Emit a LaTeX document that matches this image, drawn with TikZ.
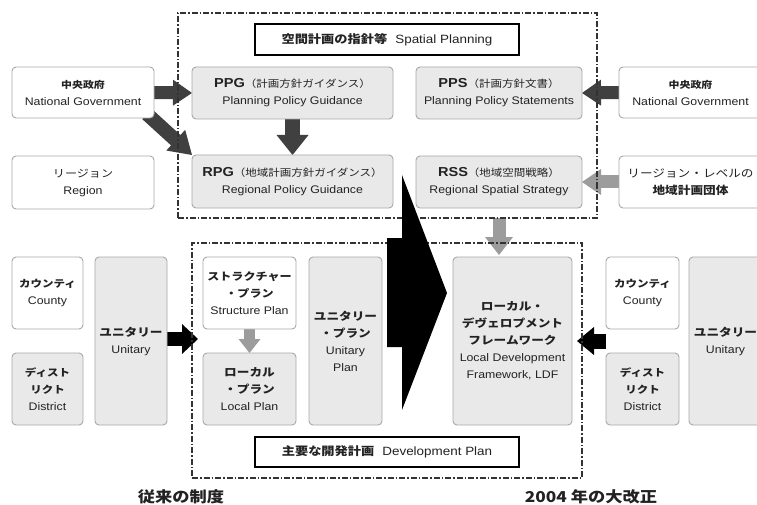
\documentclass[tikz,border=0pt]{standalone}
\usepackage{fontspec}
\setmainfont{Liberation Sans}[FakeStretch=1.12]
\newfontfamily\jp{Noto Sans CJK JP}[FakeStretch=1.15]
\usetikzlibrary{calc}
\pgfdeclarelayer{bg}
\pgfsetlayers{bg,main}
\definecolor{boxfill}{HTML}{E9E9E9}
\definecolor{boxline}{HTML}{A8A8A8}
\definecolor{dashc}{HTML}{333333}
\definecolor{darkarr}{HTML}{404040}
\definecolor{lightarr}{HTML}{9C9C9C}
\definecolor{txt}{HTML}{222222}
\newcommand{\J}[2]{{\jp\fontsize{#1}{17}\selectfont #2}}
\newcommand{\JB}[2]{{\jp\bfseries\fontsize{#1}{17}\selectfont #2}}
\newcommand{\E}[2]{{\fontsize{#1}{17}\selectfont #2}}
\newcommand{\boxat}[7]{\node[#6, minimum width={#4-#2}, minimum height={#5-#3}] (#1) at ({(#2+#4)/2},{(#3+#5)/2}) {#7};}
% color, from, to, shaft width, head half width, head length
\newcommand{\fatarrow}[6]{%
  \coordinate (fahead) at ($(#3)!#6!(#2)$);
  \draw[#1, line width=#4] (#2) -- ($(fahead)!0.6pt!(#3)$);
  \fill[#1] (#3) -- ($(fahead)!#5!90:(#3)$) -- ($(fahead)!#5!-90:(#3)$) -- cycle;
}
\tikzset{
  base/.style={rectangle, inner sep=0pt, outer sep=0pt, align=center, text=txt, font=\fontsize{11}{17}\selectfont},
  gbox/.style={base, draw=boxline, fill=boxfill, rounded corners=4pt, line width=0.9pt},
  wbox/.style={base, draw=boxline, fill=white, rounded corners=4pt, line width=0.9pt},
  tbox/.style={base, draw=black, fill=white, line width=1.6pt},
  dbox/.style={base, draw=dashc, line width=1.1pt, dash pattern=on 6pt off 2pt on 1.5pt off 2pt},
}
\begin{document}
\begin{tikzpicture}[x=1pt,y=-1pt]
\useasboundingbox (0,0) rectangle (757,505);
% frames
\boxat{topframe}{178}{13}{597}{218}{dbox}{}
\boxat{devframe}{192}{243}{582}{478}{dbox}{}
% titles
\boxat{sptitle}{255}{24}{519}{55}{tbox}{\JB{11.5}{空間計画の指針等}\hspace{8pt}\E{12}{Spatial Planning}}
\boxat{dptitle}{255}{437}{519}{467}{tbox}{\JB{11.5}{主要な開発計画}\hspace{8pt}\E{12}{Development Plan}}
% top rows
\boxat{ngL}{12}{67}{154}{118}{wbox}{\JB{9.5}{中央政府}\\National Government}
\boxat{PPG}{192}{67}{393}{119}{gbox}{\E{13}{\bfseries PPG}\J{10}{（計画方針ガイダンス）}\\Planning Policy Guidance}
\boxat{PPS}{416}{67}{582}{119}{gbox}{\E{13}{\bfseries PPS}\J{10}{（計画方針文書）}\\Planning Policy Statements}
\boxat{ngR}{619}{67}{762}{118}{wbox}{\JB{9.5}{中央政府}\\National Government}
\boxat{regL}{12}{156}{154}{209}{wbox}{\J{10.5}{リージョン}\\Region}
\boxat{RPG}{192}{155}{393}{208}{gbox}{\E{13}{\bfseries RPG}\J{10}{（地域計画方針ガイダンス）}\\Regional Policy Guidance}
\boxat{RSS}{416}{156}{582}{208}{gbox}{\E{13}{\bfseries RSS}\J{10}{（地域空間戦略）}\\Regional Spatial Strategy}
\boxat{regR}{619}{156}{762}{208}{wbox}{\J{11}{リージョン・レベルの}\\\JB{11}{地域計画団体}}
% bottom
\boxat{cntL}{12}{257}{83}{329}{wbox}{\JB{10}{カウンティ}\\County}
\boxat{dstL}{12}{353}{83}{425}{gbox}{\JB{10}{ディスト}\\\JB{10}{リクト}\\District}
\boxat{uniL}{95}{257}{167}{425}{gbox}{\JB{11}{ユニタリー}\\Unitary}
\boxat{strP}{203}{257}{296}{329}{wbox}{\JB{10.5}{ストラクチャー}\\\JB{10.5}{・プラン}\\Structure Plan}
\boxat{locP}{203}{353}{296}{425}{gbox}{\JB{11}{ローカル}\\\JB{11}{・プラン}\\Local Plan}
\boxat{uniP}{309}{257}{382}{425}{gbox}{\JB{11}{ユニタリー}\\\JB{11}{・プラン}\\Unitary\\Plan}
\boxat{LDF}{453}{257}{572}{425}{gbox}{\JB{11}{ローカル・}\\\JB{11}{デヴェロプメント}\\\JB{11}{フレームワーク}\\Local Development\\Framework, LDF}
\boxat{cntR}{606}{257}{679}{329}{wbox}{\JB{10}{カウンティ}\\County}
\boxat{dstR}{606}{353}{679}{425}{gbox}{\JB{10}{ディスト}\\\JB{10}{リクト}\\District}
\boxat{uniR}{689}{257}{762}{425}{gbox}{\JB{11}{ユニタリー}\\Unitary}
% captions
\node[base, font=\jp\bfseries\fontsize{15}{17}\selectfont] (capL) at (181,497) {従来の制度};
\node[base, font=\jp\bfseries\fontsize{15}{17}\selectfont] (capR) at (591,497) {2004 年の大改正};
% big chevron
\fill[black] (402,175) -- (447,293) -- (402,410) -- (402,347) -- (387,347) -- (387,238) -- (402,238) -- cycle;
% connectors
\coordinate (diagS) at ($(ngL.south east)+(-7,-4)$);
\coordinate (uniLtip) at ($(uniL.east)+(31,-2)$);
\coordinate (uniLs) at ($(uniL.east)+(0,-2)$);
\coordinate (rgtS) at ($(cntR.south west)!0.5!(dstR.north west)$);
\coordinate (rgtT) at ($(LDF.east |- rgtS)+(5,0)$);
\coordinate (ldfS) at (RSS.south |- topframe.south);
\coordinate (ldfT) at ($(RSS.south |- LDF.north)+(0,-2)$);
\begin{pgfonlayer}{bg}
\fill[white] (0,0) rectangle (757,505);
\fatarrow{darkarr}{ngL.east}{PPG.west}{13pt}{13pt}{19pt}
\fatarrow{darkarr}{diagS}{RPG.north west}{14pt}{14pt}{22pt}
\fatarrow{darkarr}{PPG.south}{RPG.north}{15pt}{16pt}{20pt}
\fatarrow{darkarr}{ngR.west}{PPS.east}{13pt}{13pt}{19pt}
\fatarrow{lightarr}{regR.west}{RSS.east}{13pt}{13pt}{19pt}
\fatarrow{lightarr}{ldfS}{ldfT}{13pt}{14pt}{18pt}
\fatarrow{lightarr}{strP.south}{locP.north}{11pt}{11pt}{14pt}
\fatarrow{black}{uniLs}{uniLtip}{14pt}{15pt}{16pt}
\fatarrow{black}{rgtS}{rgtT}{15pt}{14pt}{17pt}
\end{pgfonlayer}
\end{tikzpicture}
\end{document}
